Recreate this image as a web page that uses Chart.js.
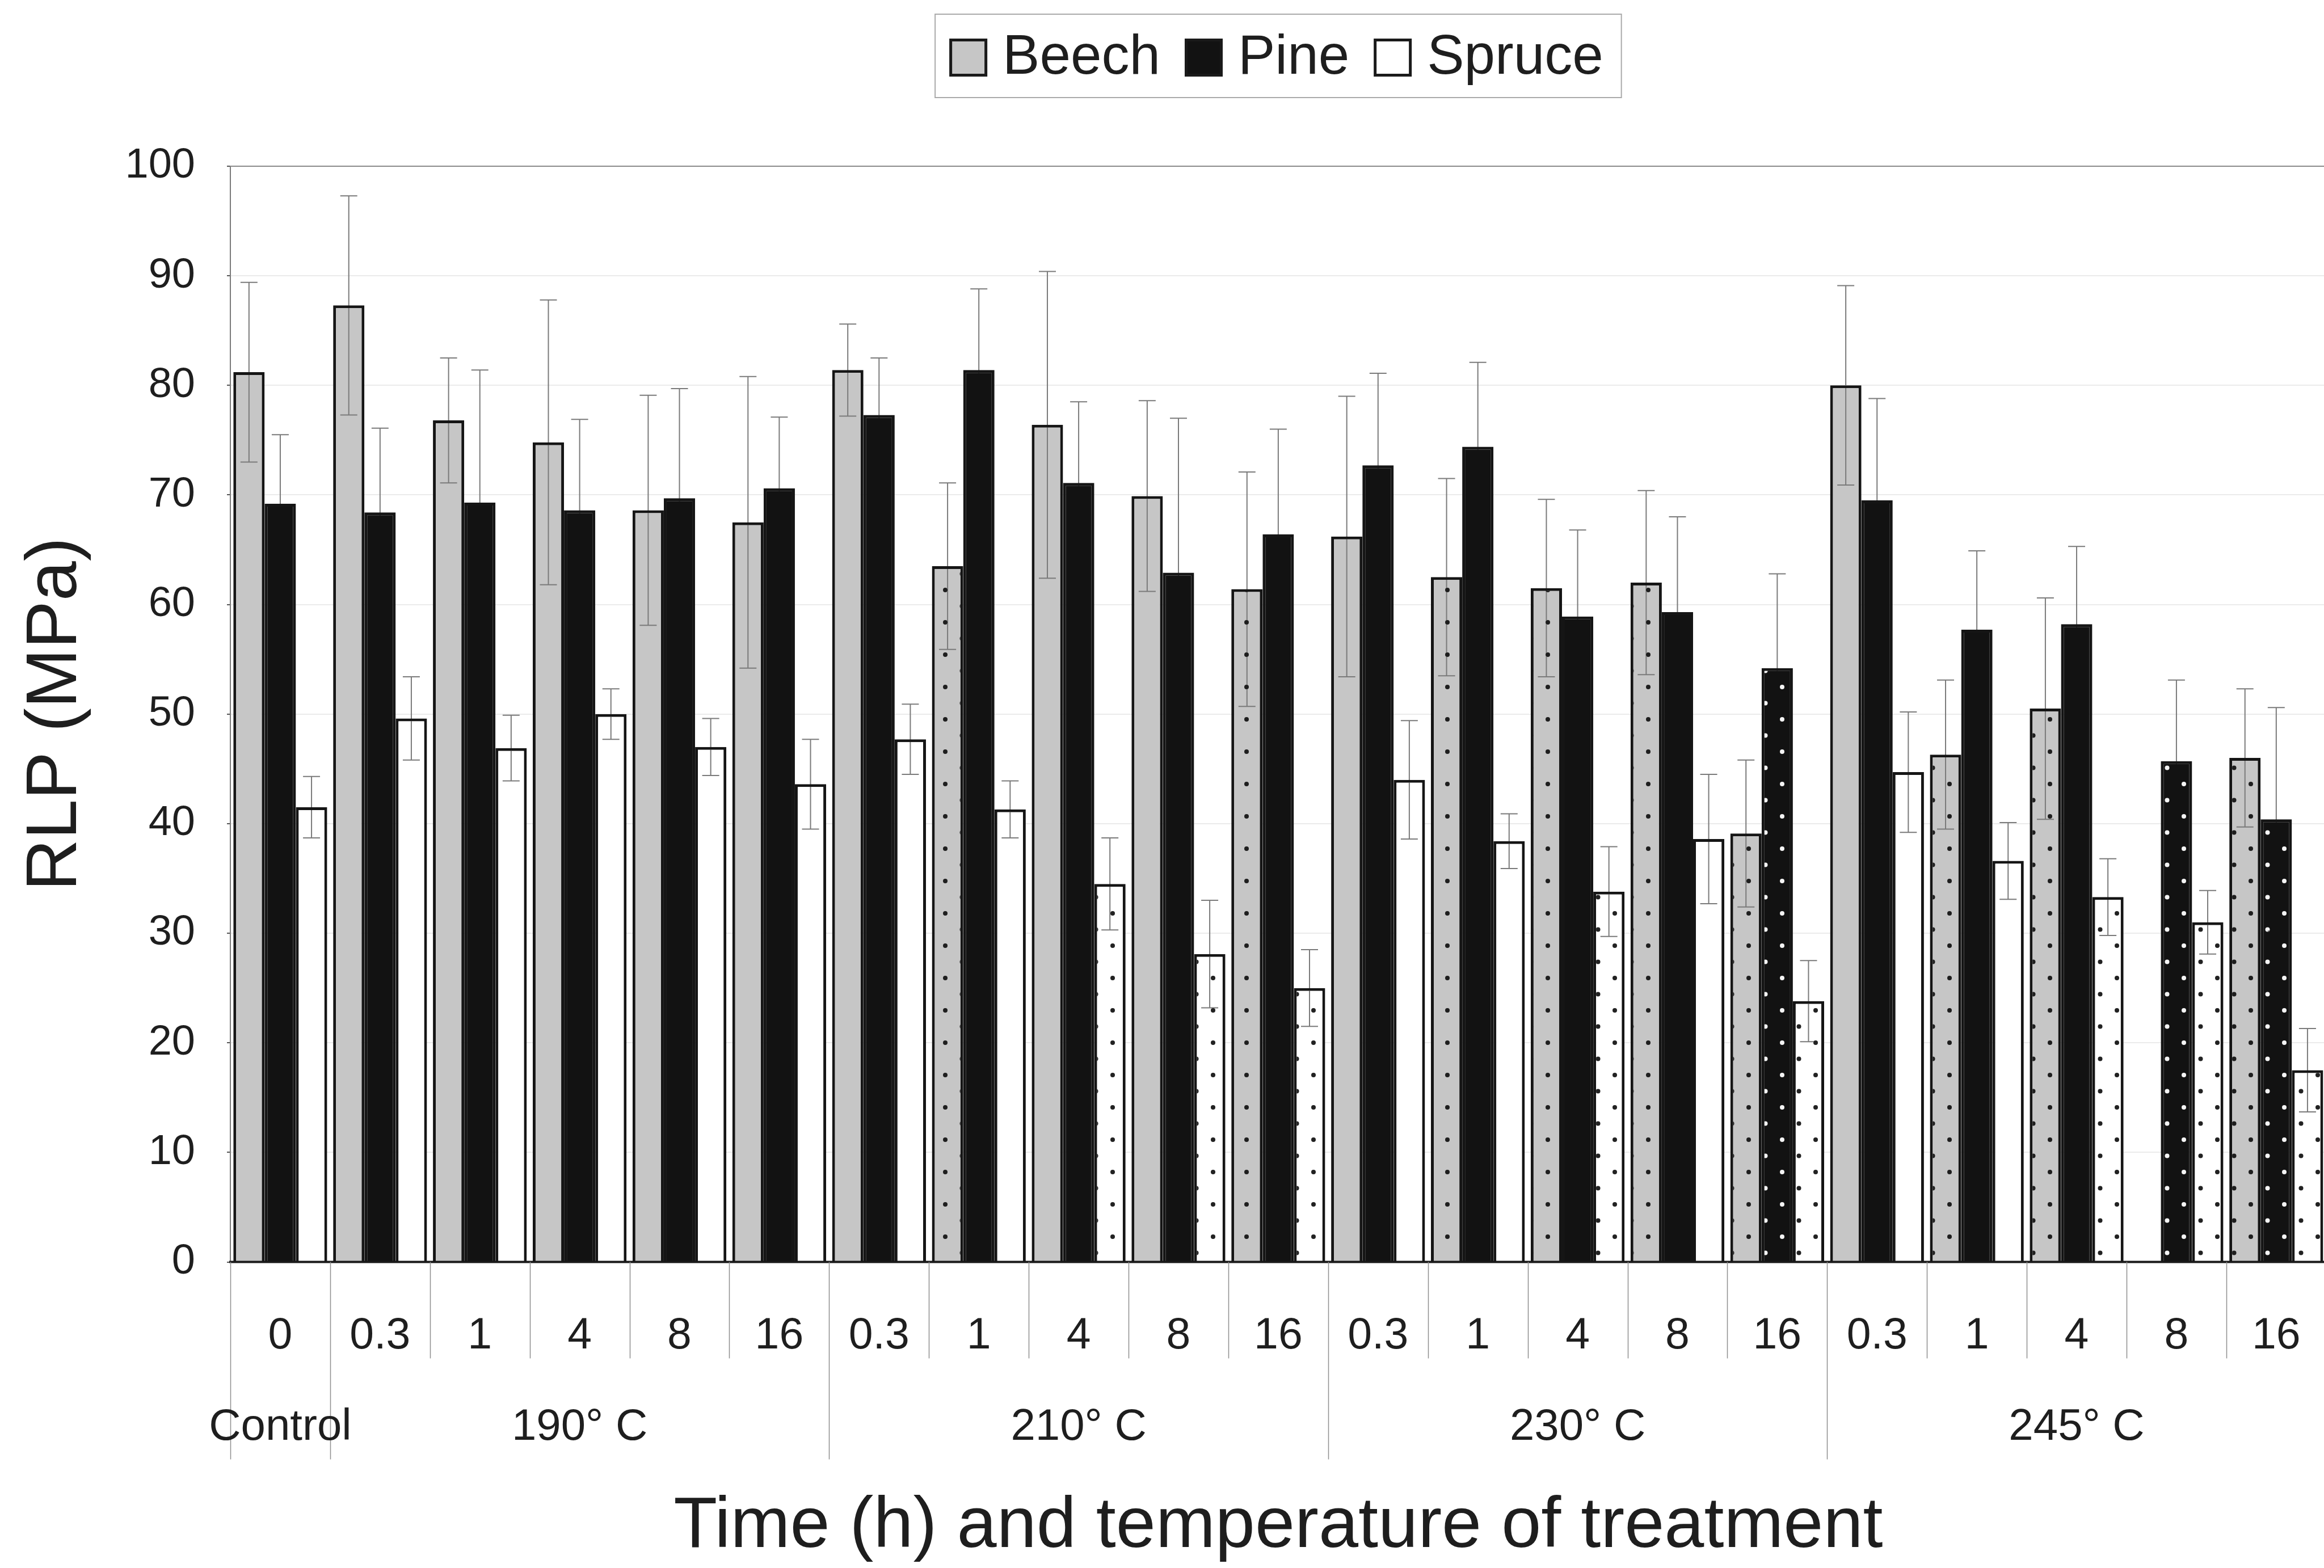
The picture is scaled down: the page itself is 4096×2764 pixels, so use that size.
<!DOCTYPE html>
<html>
<head>
<meta charset="utf-8">
<script src="https://cdn.jsdelivr.net/npm/chart.js@4.4.1/dist/chart.umd.min.js"></script>
<style>
html,body{margin:0;padding:0;background:#fff;overflow:hidden;width:4096px;height:2764px}
#wrap{position:absolute;left:0;top:0;width:4140px;height:2764px}
</style>
</head>
<body>
<div id="wrap"><canvas id="c" width="4140" height="2764"></canvas></div>
<script>
// ---- data ----
const timeLabels = ["0","0.3","1","4","8","16","0.3","1","4","8","16","0.3","1","4","8","16","0.3","1","4","8","16"];
const tempGroups = ["Control","190° C","210° C","230° C","245° C"];
const groupStart = [0,1,6,11,16];
const groupEnd   = [0,5,10,15,20];

const beech    = [81.2,87.3,76.8,74.8,68.6,67.5,81.4,63.5,76.4,69.9,61.4,66.2,62.5,61.5,62.0,39.1,80.0,46.3,50.5,null,46.0];
const beechSd  = [8.2,10.0,5.7,13.0,10.5,13.3,4.2,7.6,14.0,8.7,10.7,12.8,9.0,8.1,8.4,6.7,9.1,6.8,10.1,null,6.3];
const beechSig = [0,0,0,0,0,0,0,1,0,0,1,0,1,1,1,1,0,1,1,0,1];

const pine     = [69.2,68.4,69.3,68.6,69.7,70.6,77.3,81.4,71.1,62.9,66.4,72.7,74.4,58.9,59.3,54.2,69.5,57.7,58.2,45.7,40.4];
const pineSd   = [6.3,7.7,12.1,8.3,10.0,6.5,5.2,7.4,7.4,14.1,9.6,8.4,7.7,7.9,8.7,8.6,9.3,7.2,7.1,7.4,10.2];
const pineSig  = [0,0,0,0,0,0,0,0,0,0,0,0,0,0,0,1,0,0,0,1,1];

const spruce    = [41.5,49.6,46.9,50.0,47.0,43.6,47.7,41.3,34.5,28.1,25.0,44.0,38.4,33.8,38.6,23.8,44.7,36.6,33.3,31.0,17.5];
const spruceSd  = [2.8,3.8,3.0,2.3,2.6,4.1,3.2,2.6,4.2,4.9,3.5,5.4,2.5,4.1,5.9,3.7,5.5,3.5,3.5,2.9,3.8];
const spruceSig = [0,0,0,0,0,0,0,0,1,1,1,0,0,1,0,1,0,0,1,1,1];

const yTicks = [0,10,20,30,40,50,60,70,80,90,100];

// ---- styling ----
const FONT = "'Liberation Sans', Arial, Helvetica, sans-serif";
const TXT = '#1e1e1e';
const BEECH = '#c6c6c6', PINE = '#121212', SPRUCE = '#ffffff';

const canvas = document.getElementById('c');
const mainCtx = canvas.getContext('2d');
function makePattern(bg, dot) {
  const c = document.createElement('canvas');
  c.width = 59; c.height = 57;
  const g = c.getContext('2d');
  g.fillStyle = bg; g.fillRect(0, 0, 59, 57);
  g.fillStyle = dot;
  [[14, 14], [43.5, 42.5]].forEach(([x, y]) => { g.beginPath(); g.arc(x, y, 4, 0, Math.PI * 2); g.fill(); });
  return mainCtx.createPattern(c, 'repeat');
}
const beechPat = makePattern(BEECH, '#1e1e1e');
const pinePat = makePattern(PINE, '#f4f4f4');
const sprucePat = makePattern(SPRUCE, '#222222');

const errorBars = {
  id: 'errorBars',
  afterDatasetsDraw(chart) {
    const ctx = chart.ctx, y = chart.scales.y;
    ctx.save();
    ctx.globalCompositeOperation = 'darken';
    ctx.strokeStyle = '#7a7a7a';
    ctx.lineWidth = 2;
    chart.data.datasets.forEach((ds, di) => {
      const meta = chart.getDatasetMeta(di);
      meta.data.forEach((bar, i) => {
        const v = ds.data[i], s = ds.sd[i];
        if (v == null || s == null) return;
        const x = bar.x;
        const yt = y.getPixelForValue(v + s), yb = y.getPixelForValue(v - s);
        ctx.beginPath();
        ctx.moveTo(x, yt); ctx.lineTo(x, yb);
        ctx.moveTo(x - 15, yt); ctx.lineTo(x + 15, yt);
        ctx.moveTo(x - 15, yb); ctx.lineTo(x + 15, yb);
        ctx.stroke();
      });
    });
    ctx.restore();
    // axis line at zero and top frame
    const a = chart.chartArea;
    ctx.save();
    ctx.strokeStyle = '#1a1a1a'; ctx.lineWidth = 4;
    const y0 = y.getPixelForValue(0);
    ctx.beginPath(); ctx.moveTo(a.left - 2, y0); ctx.lineTo(a.right, y0); ctx.stroke();
    ctx.strokeStyle = '#8a8a8a'; ctx.lineWidth = 2;
    ctx.beginPath(); ctx.moveTo(a.left, a.top); ctx.lineTo(a.right, a.top); ctx.stroke();
    ctx.restore();
  }
};

const axisDecor = {
  id: 'axisDecor',
  afterDraw(chart) {
    const ctx = chart.ctx, xs = chart.scales.x, a = chart.chartArea;
    const n = timeLabels.length;
    const w = (a.right - a.left) / n;
    const edge = k => a.left + k * w;
    const longSet = new Set([0, ...groupEnd.map(e => e + 1)]);
    ctx.save();
    ctx.strokeStyle = '#8e8e8e'; ctx.lineWidth = 1.5;
    for (let k = 0; k <= n; k++) {
      const x = Math.round(edge(k)) + 0.5;
      const len = longSet.has(k) ? 348 : 170;
      ctx.beginPath(); ctx.moveTo(x, a.bottom); ctx.lineTo(x, a.bottom + len); ctx.stroke();
    }
    ctx.fillStyle = TXT;
    ctx.font = '78px ' + FONT;
    ctx.textAlign = 'center'; ctx.textBaseline = 'middle';
    tempGroups.forEach((g, i) => {
      const cx = (xs.getPixelForValue(groupStart[i]) + xs.getPixelForValue(groupEnd[i])) / 2;
      ctx.fillText(g, cx, a.bottom + 292);
    });
    ctx.restore();

    // legend
    ctx.save();
    ctx.font = '98px ' + FONT;
    const items = chart.data.datasets.map(d => ({ label: d.label, fill: d.legendFill }));
    const box = 67, gapBT = 27, gapItem = 43, padL = 25, padR = 32;
    const widths = items.map(it => ctx.measureText(it.label).width);
    let total = padL + padR + gapItem * (items.length - 1);
    widths.forEach(wd => total += box + gapBT + wd);
    const cxL = (a.left + a.right) / 2;
    const left = cxL - total / 2;
    ctx.strokeStyle = '#aaaaaa'; ctx.lineWidth = 2;
    ctx.strokeRect(left, 25, total, 147);
    let x = left + padL;
    items.forEach((it, i) => {
      ctx.fillStyle = it.fill;
      ctx.fillRect(x, 68, box, box);
      ctx.strokeStyle = '#1a1a1a'; ctx.lineWidth = 5;
      ctx.strokeRect(x + 2.5, 70.5, box - 5, box - 5);
      x += box + gapBT;
      ctx.fillStyle = TXT; ctx.textAlign = 'left'; ctx.textBaseline = 'middle';
      ctx.fillText(it.label, x, 103);
      x += widths[i] + gapItem;
    });
    ctx.restore();
  }
};

new Chart(canvas, {
  type: 'bar',
  data: {
    labels: timeLabels,
    datasets: [
      { label: 'Beech', data: beech, sd: beechSd, legendFill: BEECH,
        backgroundColor: beech.map((v, i) => beechSig[i] ? beechPat : BEECH),
        borderColor: '#151515', borderWidth: 5 },
      { label: 'Pine', data: pine, sd: pineSd, legendFill: PINE,
        backgroundColor: pine.map((v, i) => pineSig[i] ? pinePat : PINE),
        borderColor: '#151515', borderWidth: 5 },
      { label: 'Spruce', data: spruce, sd: spruceSd, legendFill: SPRUCE,
        backgroundColor: spruce.map((v, i) => spruceSig[i] ? sprucePat : SPRUCE),
        borderColor: '#151515', borderWidth: 5 }
    ]
  },
  options: {
    responsive: false,
    animation: false,
    devicePixelRatio: 1,
    layout: { padding: { top: 293, right: 15, bottom: 0, left: 0 } },
    datasets: { bar: { categoryPercentage: 0.94, barPercentage: 1.0 } },
    plugins: { legend: { display: false }, tooltip: { enabled: false }, title: { display: false } },
    scales: {
      x: {
        grid: { display: false, drawTicks: false, tickLength: 0 },
        border: { display: false },
        ticks: { color: TXT, font: { family: FONT, size: 77 }, padding: 85, autoSkip: false, maxRotation: 0 },
        title: { display: true, text: 'Time (h) and temperature of treatment', color: TXT,
                 font: { family: FONT, size: 126, lineHeight: 1.1 }, padding: { top: 0, bottom: 2 } },
        afterFit: s => { s.height = 539.5; }
      },
      y: {
        min: 0, max: 100,
        afterBuildTicks: s => { s.ticks = yTicks.map(v => ({ value: v })); },
        grid: {
          color: c => (c.tick && c.tick.value === 0) ? 'rgba(0,0,0,0)' : (c.tick && c.tick.value === 100 ? '#8a8a8a' : '#ebebeb'),
          lineWidth: 2, drawTicks: true, tickLength: 6, tickColor: '#555', tickWidth: 2
        },
        border: { display: true, color: '#7a7a7a', width: 2 },
        ticks: { color: TXT, font: { family: FONT, size: 74 }, padding: 56 },
        title: { display: true, text: 'RLP (MPa)', color: TXT,
                 font: { family: FONT, size: 126 }, padding: { top: 24, bottom: 0 } },
        afterFit: s => { s.width = 406; }
      }
    }
  },
  plugins: [errorBars, axisDecor]
});
</script>
</body>
</html>
